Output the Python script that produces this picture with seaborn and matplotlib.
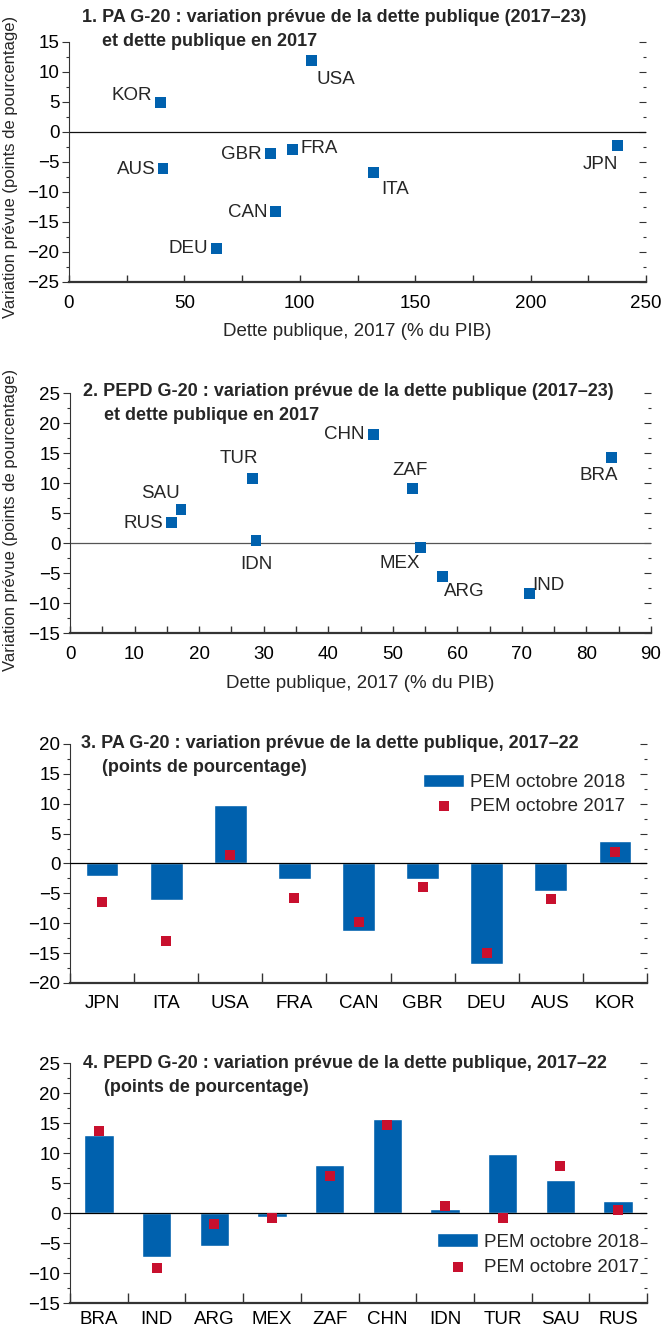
import numpy as np
import pandas as pd
import matplotlib
matplotlib.use("Agg")
import matplotlib.pyplot as plt
import matplotlib.font_manager as fm
from matplotlib.ticker import MultipleLocator, FixedLocator
import seaborn as sns

# ---------------- data ----------------
ae_countries = ["USA", "KOR", "GBR", "FRA", "AUS", "ITA", "JPN", "CAN", "DEU"]
ae_debt_2017 = [105.1, 39.8, 87.4, 96.9, 40.7, 131.8, 237.6, 89.6, 63.9]
ae_change_2017_23 = [11.9, 4.9, -3.6, -2.9, -6.1, -6.8, -2.2, -13.2, -19.4]

em_countries = ["CHN", "BRA", "TUR", "ZAF", "SAU", "RUS", "IDN", "MEX", "ARG", "IND"]
em_debt_2017 = [47.0, 83.9, 28.3, 53.1, 17.2, 15.7, 28.8, 54.3, 57.7, 71.2]
em_change_2017_23 = [18.1, 14.2, 10.8, 9.1, 5.6, 3.4, 0.45, -0.8, -5.6, -8.4]

ae_bar_countries = ["JPN", "ITA", "USA", "FRA", "CAN", "GBR", "DEU", "AUS", "KOR"]
ae_weo_oct2018 = [-2.1, -6.1, 9.75, -2.6, -11.25, -2.6, -16.8, -4.6, 3.7]
ae_weo_oct2017 = [-6.5, -13.0, 1.45, -5.8, -9.8, -3.95, -14.9, -5.95, 1.9]

em_bar_countries = ["BRA", "IND", "ARG", "MEX", "ZAF", "CHN", "IDN", "TUR", "SAU", "RUS"]
em_weo_oct2018 = [13.0, -7.35, -5.5, -0.67, 8.0, 15.7, 0.67, 9.86, 5.5, 2.0]
em_weo_oct2017 = [13.6, -9.2, -1.8, -0.9, 6.2, 14.6, 1.2, -0.9, 7.9, 0.55]

titles = [
    ("1. PA G-20 : variation prévue de la dette publique (2017–23)", "et dette publique en 2017"),
    ("2. PEPD G-20 : variation prévue de la dette publique (2017–23)", "et dette publique en 2017"),
    ("3. PA G-20 : variation prévue de la dette publique, 2017–22", "(points de pourcentage)"),
    ("4. PEPD G-20 : variation prévue de la dette publique, 2017–22", "(points de pourcentage)"),
]
xlabel_text = "Dette publique, 2017 (% du PIB)"
ylabel_text = "Variation prévue (points de pourcentage)"
legend_2018 = "PEM octobre 2018"
legend_2017 = "PEM octobre 2017"

# ---------------- layout (label offsets in pixels) ----------------
ae_label_offsets = {
    "USA": (24, -19), "KOR": (-29, 7), "GBR": (-29, -1), "FRA": (27, 1),
    "AUS": (-27, -1), "ITA": (22, -17), "JPN": (-17, -19), "CAN": (-28, -1),
    "DEU": (-28, 0),
}
em_label_offsets = {
    "CHN": (-29, 0), "BRA": (-13, -18), "TUR": (-14, 20), "ZAF": (-3, 18),
    "SAU": (-21, 16), "RUS": (-28, -1), "IDN": (0, -24), "MEX": (-21, -16),
    "ARG": (22, -15), "IND": (19, 8),
}

BLUE = "#0061AE"
RED = "#C8102E"
W, H = 661, 1331
FS = 13.5
FS_TITLE = 13
FS_YLAB = 12

sns.set_style("ticks")
available = {f.name for f in fm.fontManager.ttflist}
base = "Liberation Sans Narrow" if "Liberation Sans Narrow" in available else "Liberation Sans"
plt.rcParams["font.family"] = [base, "DejaVu Sans"]
plt.rcParams["axes.edgecolor"] = "#333333"
plt.rcParams["xtick.color"] = "#333333"
plt.rcParams["ytick.color"] = "#333333"
plt.rcParams["xtick.labelcolor"] = "black"
plt.rcParams["ytick.labelcolor"] = "black"

fig = plt.figure(figsize=(W / 100, H / 100), dpi=100)


def add_ax(left, right, top, bottom):
    return fig.add_axes([left / W, 1 - bottom / H, (right - left) / W, (bottom - top) / H])


def style_y(ax, ymin, ymax):
    ax.set_ylim(ymin, ymax)
    ax.yaxis.set_major_locator(MultipleLocator(5))
    ax.yaxis.set_minor_locator(MultipleLocator(2.5))
    ax.tick_params(axis="y", which="major", direction="out", length=5, width=0.8,
                   labelsize=FS, pad=2)
    ax.tick_params(axis="y", which="minor", direction="out", length=2.5, width=0.8)
    for s in ["top", "right"]:
        ax.spines[s].set_visible(False)
    ax.spines["left"].set_linewidth(0.8)
    ax.spines["bottom"].set_linewidth(1.6)
    sec = ax.secondary_yaxis("right")
    sec.yaxis.set_major_locator(MultipleLocator(5))
    sec.yaxis.set_minor_locator(MultipleLocator(2.5))
    sec.tick_params(axis="y", which="major", direction="in", length=5, width=0.8, labelright=False)
    sec.tick_params(axis="y", which="minor", direction="in", length=2.5, width=0.8)
    sec.spines["right"].set_visible(False)


def add_title(pair, x1, y1, x2, y2):
    fig.text(x1 / W, 1 - y1 / H, pair[0], fontsize=FS_TITLE, fontweight="bold", va="center", ha="left")
    fig.text(x2 / W, 1 - y2 / H, pair[1], fontsize=FS_TITLE, fontweight="bold", va="center", ha="left")


def scatter_panel(ax, countries, xs, ys, offsets, xmax, xmaj, xmin_step, ymin, ymax, zcolor):
    df = pd.DataFrame({"country": countries, "debt": xs, "change": ys})
    ax.axhline(0, color=zcolor, lw=0.9, zorder=1)
    sns.scatterplot(data=df, x="debt", y="change", marker="s", s=60, color=BLUE,
                    edgecolor="none", linewidth=0, ax=ax, legend=False, zorder=3)
    for c, x, y in zip(countries, xs, ys):
        dx, dy = offsets[c]
        ax.annotate(c, (x, y), xytext=(dx, dy), textcoords="offset pixels",
                    ha="center", va="center", fontsize=FS)
    ax.set_xlim(0, xmax)
    ax.xaxis.set_major_locator(MultipleLocator(xmaj))
    ax.xaxis.set_minor_locator(MultipleLocator(xmin_step))
    ax.tick_params(axis="x", which="both", direction="in", length=5, width=1, labelsize=FS, pad=9)
    style_y(ax, ymin, ymax)
    ax.set_xlabel(xlabel_text, fontsize=FS)
    ax.set_ylabel(ylabel_text, fontsize=FS_YLAB)


def bar_panel(ax, countries, v2018, v2017, ymin, ymax, leg_anchor, leg_spacing, xpad):
    df = pd.DataFrame({"country": countries, "v2018": v2018, "v2017": v2017})
    sns.barplot(data=df, x="country", y="v2018", order=countries, color=BLUE, saturation=1,
                width=0.51, errorbar=None, ax=ax, label=legend_2018, zorder=2)
    sns.stripplot(data=df, x="country", y="v2017", order=countries, color=RED, marker="s",
                  size=7.2, jitter=False, linewidth=0, ax=ax, label=legend_2017, zorder=4)
    ax.axhline(0, color="black", lw=0.9, zorder=3)
    n = len(countries)
    ax.set_xlim(-0.5, n - 0.5)
    ax.xaxis.set_minor_locator(FixedLocator(np.arange(-0.5, n, 1.0)))
    ax.tick_params(axis="x", which="minor", direction="in", length=7, width=1)
    ax.tick_params(axis="x", which="major", length=0, labelsize=FS, pad=xpad)
    style_y(ax, ymin, ymax)
    ax.set_xlabel("")
    ax.set_ylabel("")
    handles, labels = ax.get_legend_handles_labels()
    keep = {}
    for h, l in zip(handles, labels):
        if l not in keep:
            keep[l] = h
    ax.legend([keep[legend_2018], keep[legend_2017]], [legend_2018, legend_2017],
              loc="upper left", bbox_to_anchor=leg_anchor, frameon=False, fontsize=FS,
              handlelength=2.2, handletextpad=0.3, borderpad=0, borderaxespad=0,
              labelspacing=leg_spacing, markerscale=1.0)


# Panel 1
ax1 = add_ax(69, 646, 42, 282)
scatter_panel(ax1, ae_countries, ae_debt_2017, ae_change_2017_23, ae_label_offsets,
              250, 50, 25, -25, 15, "#111111")
ax1.yaxis.set_label_coords(-0.088, 0.48)
ax1.xaxis.set_label_coords(0.5, -0.17)
add_title(titles[0], 82, 18, 102, 42)

# Panel 2
ax2 = add_ax(70, 651, 393, 633)
scatter_panel(ax2, em_countries, em_debt_2017, em_change_2017_23, em_label_offsets,
              90, 10, 5, -15, 25, "#555555")
ax2.yaxis.set_label_coords(-0.09, 0.47)
ax2.xaxis.set_label_coords(0.5, -0.175)
add_title(titles[1], 83, 392, 104, 415)

# Panel 3
ax3 = add_ax(70, 647, 744, 983)
bar_panel(ax3, ae_bar_countries, ae_weo_oct2018, ae_weo_oct2017, -20, 20, (0.612, 0.875), 0.35, 9)
add_title(titles[2], 81, 743, 102, 767)

# Panel 4
ax4 = add_ax(70, 647, 1063, 1303)
bar_panel(ax4, em_bar_countries, em_weo_oct2018, em_weo_oct2017, -15, 25, (0.636, 0.29), 0.45, 6)
add_title(titles[3], 83, 1063, 104, 1087)

fig.savefig("out.png", dpi=100)
